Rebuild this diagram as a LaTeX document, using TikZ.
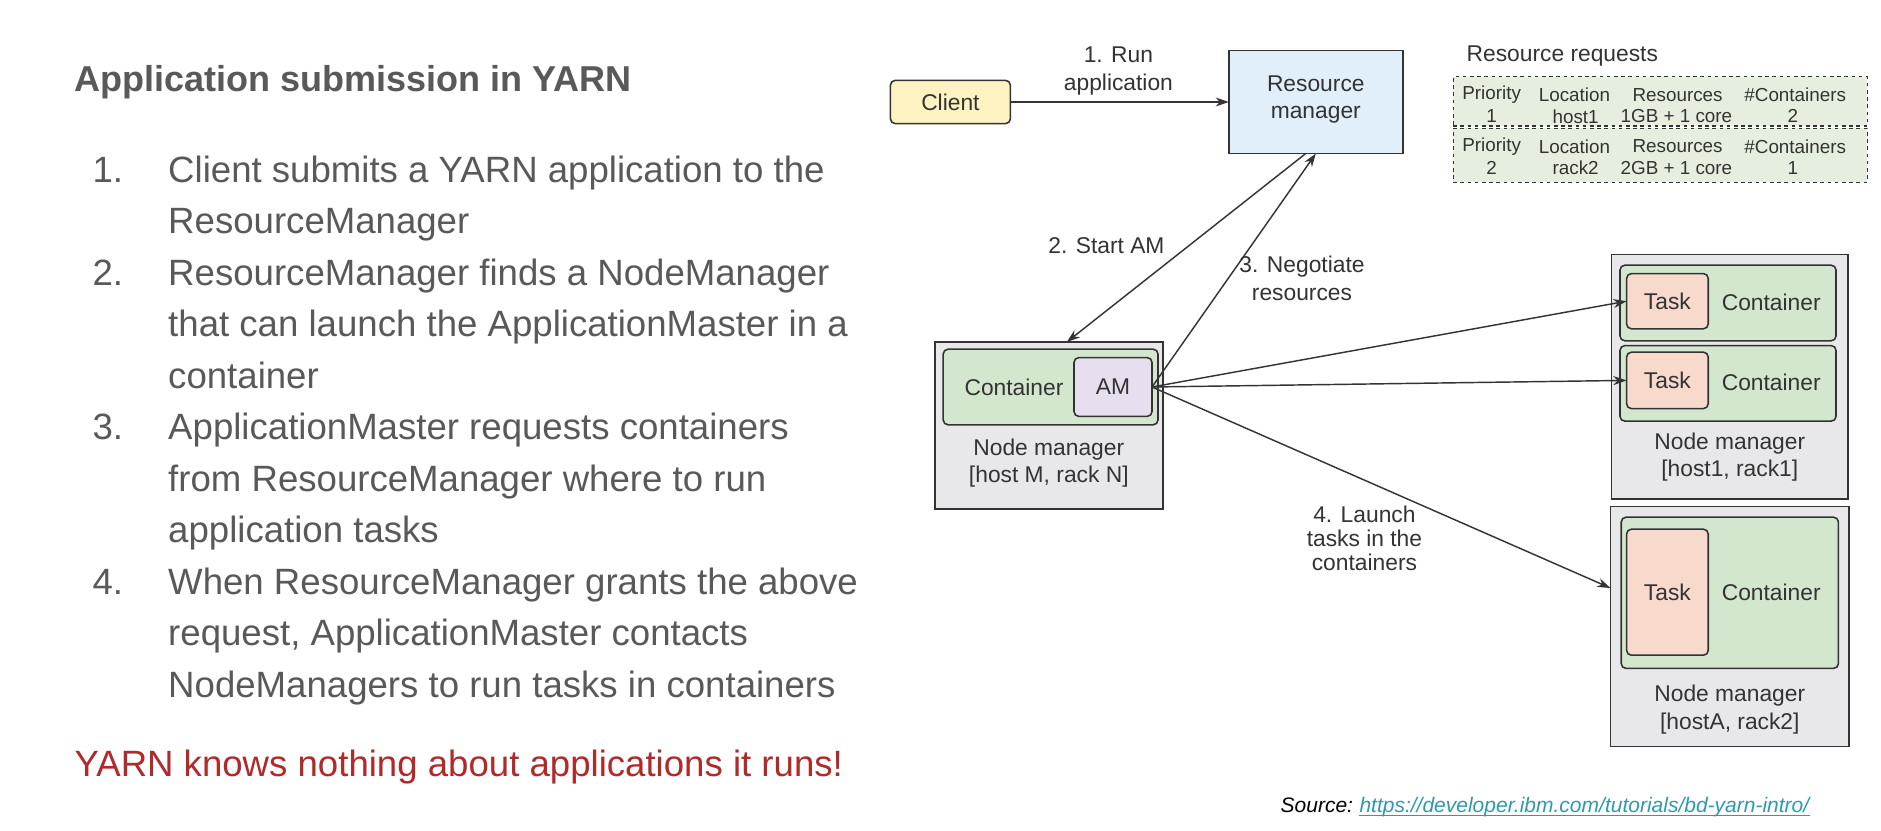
\documentclass[tikz,border=0pt]{standalone}
\usepackage{fontspec}
\setmainfont{Liberation Sans}
\usetikzlibrary{arrows.meta,calc}
\definecolor{txtgray}{HTML}{595959}
\definecolor{redtxt}{HTML}{B02A2A}
\definecolor{linecol}{HTML}{333333}
\definecolor{clientfill}{HTML}{FCF2C2}
\definecolor{rmfill}{HTML}{E1EFFA}
\definecolor{reqfill}{HTML}{E6EFDF}
\definecolor{nmfill}{HTML}{E8E8EA}
\definecolor{contfill}{HTML}{D3E7CE}
\definecolor{amfill}{HTML}{E7DFF0}
\definecolor{taskfill}{HTML}{F8DACD}
\definecolor{linkcol}{HTML}{2F9AAE}
\begin{document}
\begin{tikzpicture}[x=1pt,y=-1pt,
  listtxt/.style={anchor=base west,inner sep=0pt,text=txtgray,font=\fontsize{30.5}{36}\selectfont},
  dtxt/.style={inner sep=0pt,text=linecol,font=\fontsize{19}{23}\selectfont,align=center},
  ttxt/.style={inner sep=0pt,text=linecol,font=\fontsize{15.7}{18}\selectfont},
  box/.style={draw=linecol,line width=1.3pt,inner sep=0pt,outer sep=0pt},
  rbox/.style={box,rounded corners=4pt},
  arr/.style={draw=linecol,line width=1.2pt,-{Stealth[length=11pt,width=7.5pt]}}]
\useasboundingbox[fill=white] (0,0) rectangle (1567.5,692.5);

% left text
\node[listtxt,font=\bfseries\fontsize{30}{36}\selectfont] (title) at (62,76) {Application submission in YARN};
\node[listtxt] (n1) at (77,152) {1.};
\node[listtxt] (l1) at (140,152) {Client submits a YARN application to the};
\node[listtxt] (l2) at (140,194.9) {ResourceManager};
\node[listtxt] (n2) at (77,237.8) {2.};
\node[listtxt] (l3) at (140,237.8) {ResourceManager finds a NodeManager};
\node[listtxt] (l4) at (140,280.7) {that can launch the ApplicationMaster in a};
\node[listtxt] (l5) at (140,323.6) {container};
\node[listtxt] (n3) at (77,366.5) {3.};
\node[listtxt] (l6) at (140,366.5) {ApplicationMaster requests containers};
\node[listtxt] (l7) at (140,409.4) {from ResourceManager where to run};
\node[listtxt] (l8) at (140,452.3) {application tasks};
\node[listtxt] (n4) at (77,495.2) {4.};
\node[listtxt] (l9) at (140,495.2) {When ResourceManager grants the above};
\node[listtxt] (l10) at (140,538.1) {request, ApplicationMaster contacts};
\node[listtxt] (l11) at (140,581) {NodeManagers to run tasks in containers};
\node[listtxt,text=redtxt] (red) at (62,647) {YARN knows nothing about applications it runs!};

% client and RM
\node[rbox,fill=clientfill,minimum width=100pt,minimum height=36pt] (client) at (792,85) {};
\node[dtxt] (clientt) at (client.center) {Client};
\node[box,fill=rmfill,minimum width=145pt,minimum height=86pt] (rm) at (1096.5,85) {};
\node[dtxt] (rmt) at (1096.5,83) {Resource\\manager};
\draw[arr] (client) -- (rm);
\node[dtxt] (lab1) at (932,59) {1. Run\\application};

% resource requests
\node[dtxt,anchor=west] (rrt) at (1222,47) {Resource requests};
\node[box,dashed,line width=1.1pt,fill=reqfill,minimum width=345pt,minimum height=41pt] (req1) at (1383.5,84.5) {};
\node[box,dashed,line width=1.1pt,fill=reqfill,minimum width=345pt,minimum height=45pt] (req2) at (1383.5,129.5) {};
\foreach \r/\yh/\yv/\p/\l/\res/\c in {a/79/97/1/host1/1GB + 1 core/2, b/122/140/2/rack2/2GB + 1 core/1}{
  \node[ttxt] (p\r) at (1243,\yh) {Priority};
  \node[ttxt] (lo\r) at (1312,\yh) {Location};
  \node[ttxt] (rs\r) at (1398,\yh) {Resources};
  \node[ttxt] (co\r) at (1496,\yh) {\#Containers};
  \node[ttxt] (pv\r) at (1243,\yv) {\p};
  \node[ttxt] (lv\r) at (1313,\yv) {\l};
  \node[ttxt] (rv\r) at (1397,\yv) {\res};
  \node[ttxt] (cv\r) at (1494,\yv) {\c};
}

% node manager M
\node[box,fill=nmfill,minimum width=190pt,minimum height=139pt] (nmM) at (874,354.5) {};
\node[rbox,fill=contfill,minimum width=179pt,minimum height=63pt] (contM) at (875.5,322.5) {};
\node[rbox,fill=amfill,minimum width=65pt,minimum height=49pt] (am) at (927.5,322.5) {};
\node[dtxt] (amt) at (am.center) {AM};
\node[dtxt] (contMt) at (845,323) {Container};
\node[dtxt] (nmMt) at (874,386) {Node manager\\{[}host M, rack N{]}};

% node manager host1
\node[box,fill=nmfill,minimum width=197pt,minimum height=204pt] (nm1) at (1441.5,314) {};
\node[rbox,fill=contfill,minimum width=180pt,minimum height=63pt] (cont1) at (1440,252.5) {};
\node[rbox,fill=taskfill,minimum width=68pt,minimum height=46pt] (task1) at (1389.5,251) {};
\node[dtxt] (task1t) at (task1.center) {Task};
\node[dtxt] (cont1t) at (1476,252) {Container};
\node[rbox,fill=contfill,minimum width=180pt,minimum height=63pt] (cont2) at (1440,319.5) {};
\node[rbox,fill=taskfill,minimum width=68pt,minimum height=47pt] (task2) at (1389.5,317) {};
\node[dtxt] (task2t) at (task2.center) {Task};
\node[dtxt] (cont2t) at (1476,319) {Container};
\node[dtxt] (nm1t) at (1441.5,381) {Node manager\\{[}host1, rack1{]}};

% node manager hostA
\node[box,fill=nmfill,minimum width=199pt,minimum height=200pt] (nmA) at (1441.5,522) {};
\node[rbox,fill=contfill,minimum width=181pt,minimum height=126pt] (cont3) at (1441.5,494) {};
\node[rbox,fill=taskfill,minimum width=68pt,minimum height=105pt] (task3) at (1389.5,493.5) {};
\node[dtxt] (task3t) at (task3.center) {Task};
\node[dtxt] (cont3t) at (1476,494) {Container};
\node[dtxt] (nmAt) at (1441.5,591.5) {Node manager\\{[}hostA, rack2{]}};

% connectors
\draw[arr] ([xshift=-8.5pt]rm.south) -- ([xshift=15pt]nmM.north);
\draw[arr] (am.east) -- (rm.south);
\draw[arr] (am.east) -- (task1.west);
\draw[arr] (am.east) -- (task2.west);
\coordinate (aEnd) at ([yshift=32pt]nmA.west);
\draw[arr] (am.east) -- (aEnd);
\node[dtxt] (lab2) at (922,205) {2. Start AM};
\node[dtxt] (lab3) at (1085,232) {3. Negotiate\\resources};
\node[dtxt,font=\fontsize{19}{20}\selectfont] (lab4) at (1137,449) {4. Launch\\tasks in the\\containers};

% source
\node[anchor=base west,inner sep=0pt,font=\itshape\fontsize{17.5}{20}\selectfont] (src) at (1067,677) {Source:};
\node[anchor=base west,inner sep=0pt,text=linkcol,font=\itshape\fontsize{17.5}{20}\selectfont] (link) at ([xshift=5pt]src.base east) {https://developer.ibm.com/tutorials/bd-yarn-intro/};
\draw[linkcol,line width=0.8pt] ([yshift=-2.5pt]link.base west) -- ([yshift=-2.5pt]link.base east);
\end{tikzpicture}
\end{document}
